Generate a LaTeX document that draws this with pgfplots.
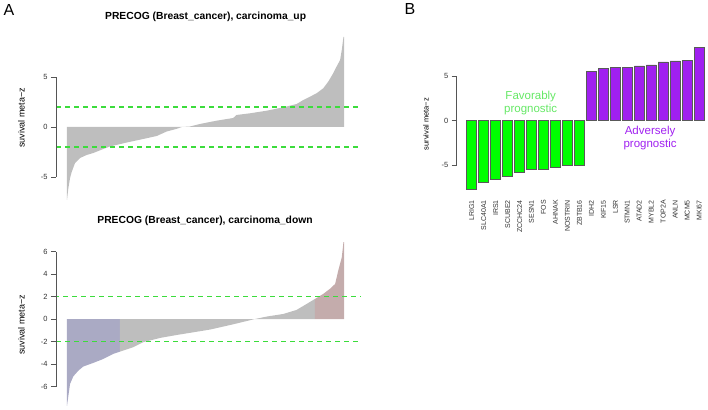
\documentclass[border=0pt]{standalone}
\usepackage{pgfplots}
\pgfplotsset{compat=1.18}
\usepackage{fontspec}
\setmainfont{Liberation Sans}

\definecolor{rgray}{RGB}{190,190,190}
\definecolor{rblue}{RGB}{170,170,196}
\definecolor{rpink}{RGB}{196,172,172}
\definecolor{dgreen}{RGB}{60,220,60}
\definecolor{rgreen}{RGB}{0,255,0}
\definecolor{rpurple}{RGB}{160,32,240}
\definecolor{axgray}{RGB}{85,85,85}

\pgfplotsset{
  rstyle/.style={
    scale only axis, clip=false,
    axis line style={draw=none},
    xtick=\empty,
    ytick pos=left, tick align=outside, major tick length=5pt,
    ytick style={axgray, line width=0.5pt},
    /pgf/number format/assume math mode=true,
    tick label style={font=\fontsize{7.5}{8}\selectfont, text=black!80},
    ylabel style={font=\fontsize{9}{10}\selectfont, anchor=center},
  },
  zline/.style={color=dgreen, line width=1.5pt, dash pattern=on 5pt off 4pt},
}

\begin{document}
\begin{tikzpicture}[x=1pt,y=1pt]
\path[use as bounding box] (0,0) rectangle (708,409);

% panel A, top
\begin{axis}[rstyle, at={(56pt,208pt)}, anchor=south west,
  width=306pt, height=166pt,
  xmin=-3.97, xmax=106.5, ymin=-7.4, ymax=9.2,
  ytick={-5,0,5},
  ylabel={suvival meta−z},
  ylabel style={at={(axis description cs:-0.113,0.5)}}]
\addplot[draw=none, fill=rgray] coordinates {
 (0,-7.3) (0.5,-6.1) (1.1,-5.1) (1.7,-4.5) (2.9,-3.6) (4.7,-3.1)
 (7.1,-2.8) (9.5,-2.6) (13.1,-2.2) (15.5,-1.95) (21.6,-1.55) (27.5,-1.2)
 (32.4,-0.9) (36.0,-0.45) (39.4,-0.2) (41.5,0) (44.4,0.05) (48.0,0.3)
 (54.0,0.63) (60.0,0.9) (61.2,1.2) (66.1,1.37) (72.1,1.63) (78.1,1.97)
 (82.9,2.3) (85.3,2.7) (87.7,3.03) (90.1,3.37) (92.5,3.87) (94.3,4.53)
 (96.1,5.37) (97.3,6.03) (98.6,6.7) (99.2,7.7) (99.8,9.0) (100,9.0)
} \closedcycle;
\addplot[zline] coordinates {(-3.97,2) (105.8,2)};
\addplot[zline] coordinates {(-3.97,-2) (105.8,-2)};
\draw[axgray, line width=0.5pt] (axis cs:-3.97,-5) -- (axis cs:-3.97,5);
\node[anchor=center, font=\bfseries\fontsize{10.3}{12}\selectfont]
  at (axis description cs:0.489,1.11) {PRECOG (Breast\_cancer), carcinoma\_up};
\end{axis}

% panel A, bottom
\begin{axis}[rstyle, at={(56pt,2pt)}, anchor=south west,
  width=306pt, height=166.5pt,
  xmin=-3.97, xmax=106.5, ymin=-7.8, ymax=7.0,
  ytick={-6,-4,-2,0,2,4,6},
  ylabel={suvival meta−z},
  ylabel style={at={(axis description cs:-0.113,0.493)}}]
\addplot[draw=none, fill=rblue] coordinates {
 (0,-7.7) (0.5,-6.8) (1.1,-5.75) (2.3,-5.07) (4.1,-4.57) (5.9,-4.2)
 (9.5,-3.88) (13.1,-3.53) (16.7,-3.08) (19.1,-2.88)
} \closedcycle;
\addplot[draw=none, fill=rgray] coordinates {
 (19.1,-2.88) (23.9,-2.49) (27.5,-2.04) (33.6,-1.66) (39.6,-1.4)
 (45.6,-1.16) (51.6,-0.92) (60.0,-0.45) (67.5,0) (72.1,0.24)
 (78.1,0.47) (82.9,0.83) (86.5,1.36) (89.5,1.8)
} \closedcycle;
\addplot[draw=none, fill=rpink] coordinates {
 (89.5,1.8) (92.5,2.25) (94.9,2.7) (96.8,3.14) (97.9,4.3) (99.2,5.5)
 (99.8,6.85) (100,6.85)
} \closedcycle;
\addplot[zline, dash phase=2pt] coordinates {(-3.97,2) (105.8,2)};
\addplot[zline] coordinates {(-3.97,-2) (105.8,-2)};
\draw[axgray, line width=0.5pt] (axis cs:-3.97,-6) -- (axis cs:-3.97,6);
\node[anchor=center, font=\bfseries\fontsize{10.3}{12}\selectfont]
  at (axis description cs:0.487,1.116) {PRECOG (Breast\_cancer), carcinoma\_down};
\end{axis}

% panel B
\begin{axis}[rstyle, at={(456.7pt,217.3pt)}, anchor=south west,
  width=251.3pt, height=146.4pt,
  xmin=-1.253, xmax=19.74, ymin=-8, ymax=8.5,
  ytick={-5,0,5},
  xtick={0,...,19},
  xtick style={draw=none},
  xticklabels={LRIG1,SLC40A1,IRS1,SCUBE2,ZCCHC24,SESN1,FOS,AHNAK,NOSTRIN,ZBTB16,
    IDH2,KIF15,LSR,STMN1,ATAD2,MYBL2,TOP2A,ANLN,MCM5,MKI67},
  xticklabel style={rotate=90, anchor=east, font=\fontsize{7}{8}\selectfont},
  ylabel={survival meta−z},
  ylabel style={at={(axis description cs:-0.122,0.462)}, font=\fontsize{7.5}{8}\selectfont},
  ybar, bar width=10pt, bar shift=0pt]
\addplot[fill=rgreen, draw=black!65, line width=0.5pt] coordinates {
 (0,-7.74) (1,-6.99) (2,-6.6) (3,-6.31) (4,-5.86)
 (5,-5.48) (6,-5.48) (7,-5.19) (8,-5.0) (9,-5.0)
};
\addplot[fill=rpurple, draw=black!65, line width=0.5pt] coordinates {
 (10,5.6) (11,5.94) (12,5.98) (13,6.05) (14,6.17)
 (15,6.28) (16,6.62) (17,6.73) (18,6.8) (19,8.27)
};
\draw[axgray, line width=0.5pt] (axis cs:-1.253,-5) -- (axis cs:-1.253,5);
\node[align=center, text=rgreen!85!black!60!white, font=\fontsize{11.5}{13.3}\selectfont]
  at (axis cs:4.93,1.96) {Favorably\\prognostic};
\node[align=center, text=rpurple, font=\fontsize{11.5}{13.3}\selectfont]
  at (axis cs:14.9,-1.99) {Adversely\\prognostic};
\end{axis}

\node[font=\fontsize{16}{18}\selectfont] at (9,399) {A};
\node[font=\fontsize{16}{18}\selectfont] at (410,400) {B};
\end{tikzpicture}
\end{document}
